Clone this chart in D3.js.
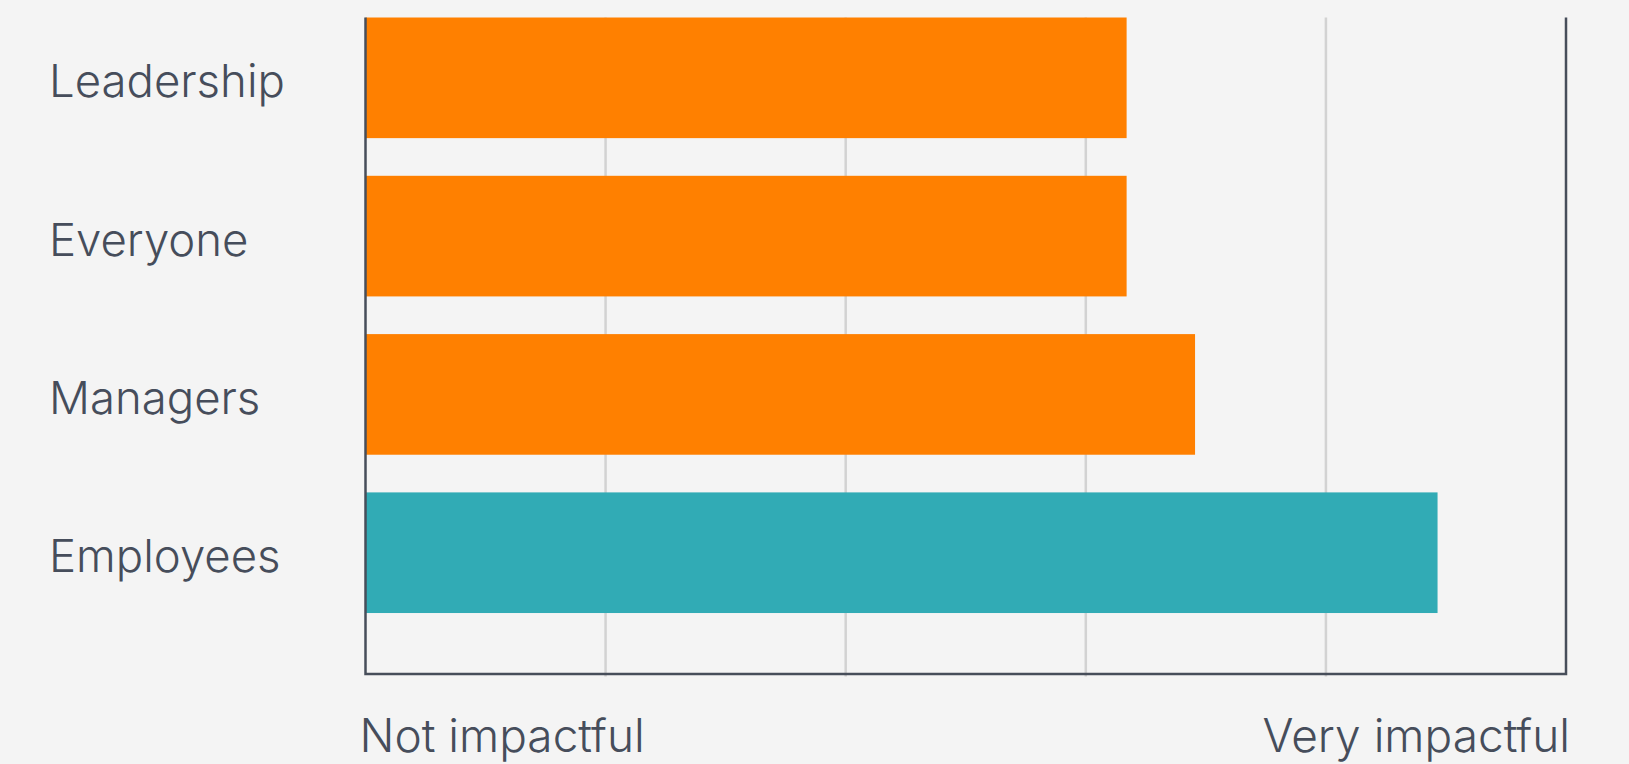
<!DOCTYPE html>
<html>
<head>
<meta charset="utf-8">
<script src="https://cdn.jsdelivr.net/npm/d3@7"></script>
<style>
  html, body { margin: 0; padding: 0; background: #f4f4f4; }
  svg { display: block; }
  text { font-family: Inter, "Noto Sans", sans-serif; font-weight: 300; fill: #464d5b; }
</style>
</head>
<body>
<svg id="chart" width="1629" height="764"></svg>
<script>
// Average rated impact per group (0 = not impactful, 5 = very impactful)
const categories = ["Leadership", "Everyone", "Managers", "Employees"];
const values = [3.17, 3.17, 3.455, 4.465];
const barColors = ["#ff8000", "#ff8000", "#ff8000", "#31abb5"];
const scaleLabels = ["Not impactful", "Very impactful"];
const gridValues = [1, 2, 3, 4];

const svg = d3.select("#chart");
const plotLeft = 365.5, plotRight = 1566, plotTop = 17.5, plotBottom = 674;

const x = d3.scaleLinear().domain([0, 5]).range([plotLeft, plotRight]);
const y = d3.scaleBand()
  .domain(categories)
  .range([plotTop, plotTop + 4 * 158.3])
  .paddingInner(0.238)
  .paddingOuter(0.119)
  .align(0);

// vertical grid lines
svg.append("g").selectAll("line")
  .data(gridValues)
  .join("line")
  .attr("x1", d => x(d)).attr("x2", d => x(d))
  .attr("y1", plotTop).attr("y2", plotBottom + 2.5)
  .attr("stroke", "#d2d2d2")
  .attr("stroke-width", 2.5);

// bars
svg.append("g").selectAll("rect")
  .data(categories)
  .join("rect")
  .attr("x", x(0))
  .attr("y", d => y(d))
  .attr("width", (d, i) => x(values[i]) - x(0))
  .attr("height", y.bandwidth())
  .attr("fill", (d, i) => barColors[i]);

// frame: left, bottom and right edges
const frame = d3.path();
frame.moveTo(x(0), plotTop);
frame.lineTo(x(0), plotBottom);
frame.lineTo(x(5), plotBottom);
frame.lineTo(x(5), plotTop);
svg.append("path")
  .attr("d", frame.toString())
  .attr("fill", "none")
  .attr("stroke", "#474e5a")
  .attr("stroke-width", 2.5);

// category labels
svg.append("g").selectAll("text")
  .data(categories)
  .join("text")
  .attr("x", 49)
  .attr("y", d => y(d) + y.bandwidth() / 2)
  .attr("dy", "0.43em")
  .attr("font-size", 45.5)
  .text(d => d);

// scale end labels
svg.append("text")
  .attr("x", x(0) - 6)
  .attr("y", 752)
  .attr("font-size", 46)
  .attr("text-anchor", "start")
  .text(scaleLabels[0]);
svg.append("text")
  .attr("x", x(5) + 4)
  .attr("y", 752)
  .attr("font-size", 46)
  .attr("text-anchor", "end")
  .text(scaleLabels[1]);
</script>
</body>
</html>
